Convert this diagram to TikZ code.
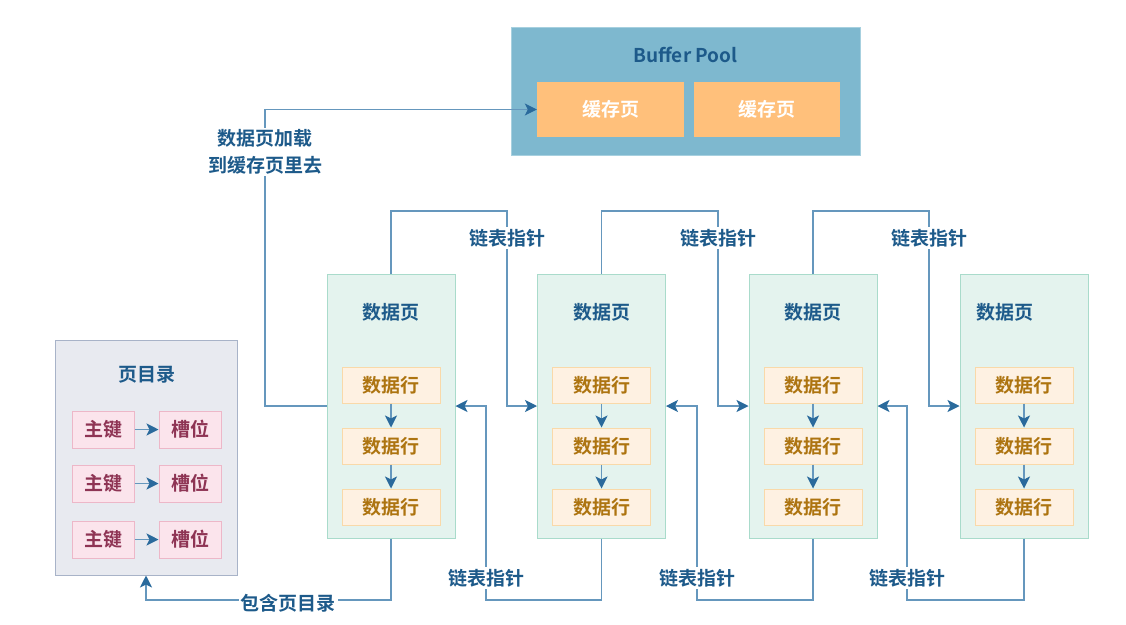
\documentclass[tikz,border=0pt]{standalone}
\usepackage{fontspec}
\setmainfont[BoldFont={Noto Sans CJK SC Bold}]{Noto Sans CJK SC}
\usetikzlibrary{arrows.meta,positioning}

\definecolor{linkblue}{HTML}{6597BD}
\definecolor{tipblue}{HTML}{2A6A9C}
\definecolor{lbltext}{HTML}{1D5A8A}
\definecolor{pagefill}{HTML}{E4F3EE}
\definecolor{pageborder}{HTML}{A9DBCB}
\definecolor{rowfill}{HTML}{FEF1E2}
\definecolor{rowborder}{HTML}{F9D9A9}
\definecolor{rowtext}{HTML}{AD7410}
\definecolor{dirfill}{HTML}{E8EAF0}
\definecolor{dirborder}{HTML}{A8B3C8}
\definecolor{keyfill}{HTML}{FBE4EC}
\definecolor{keyborder}{HTML}{EDB7C8}
\definecolor{keytext}{HTML}{8E3454}
\definecolor{poolfill}{HTML}{7EB8CF}
\definecolor{poolborder}{HTML}{A7D0DF}
\definecolor{cachefill}{HTML}{FFC07B}

\begin{document}
\begin{tikzpicture}[
    x=1pt, y=-1pt,
    node distance=24pt,
    txt/.style={font=\fontsize{19}{27}\selectfont\bfseries},
    page/.style={rectangle, draw=pageborder, fill=pagefill, line width=1pt, minimum width=128pt, minimum height=264pt},
    rowbox/.style={rectangle, draw=rowborder, fill=rowfill, line width=1pt, minimum width=98pt, minimum height=36pt, inner sep=0pt, txt, text=rowtext},
    dirbox/.style={rectangle, draw=dirborder, fill=dirfill, line width=1pt, minimum width=182pt, minimum height=235pt},
    keybox/.style={rectangle, draw=keyborder, fill=keyfill, line width=1pt, minimum width=62pt, minimum height=37pt, inner sep=0pt, txt, text=keytext},
    poolbox/.style={rectangle, draw=poolborder, fill=poolfill, line width=1pt, minimum width=349pt, minimum height=128pt},
    cachebox/.style={rectangle, fill=cachefill, minimum width=147pt, minimum height=55pt, inner sep=0pt, txt, text=white},
    title/.style={txt, text=lbltext, inner sep=0pt},
    lbl/.style={txt, text=lbltext, fill=white, inner sep=2pt, align=center},
    arrow/.style={-{Stealth[length=12pt,width=12pt,inset=3pt,color=tipblue]}, draw=linkblue, line width=1.1pt}
]
\useasboundingbox (0,0) rectangle (1126,624);

% buffer pool
\node[poolbox] (pool) at (685.5,91) {};
\node[title] (poolt) at (685.5,55) {Buffer Pool};
\node[cachebox] (c1) at (610.5,109.5) {缓存页};
\node[cachebox, minimum width=146pt, right=10pt of c1] (c2) {缓存页};

% page directory
\node[dirbox] (dir) at (146,457.5) {};
\node[title] (dirt) at (147,375) {页目录};
\node[keybox] (k1) at (103,429.5) {主键};
\node[keybox, right=24pt of k1] (s1) {槽位};
\node[keybox] (k2) at (103,483.5) {主键};
\node[keybox, right=24pt of k2] (s2) {槽位};
\node[keybox] (k3) at (103,539.5) {主键};
\node[keybox, right=24pt of k3] (s3) {槽位};

% data pages
\node[page] (pg1) at (391,406) {};
\node[title] (pg1t) at (391,312) {数据页};
\node[rowbox] (r11) at (391,385) {数据行};
\node[rowbox, below=of r11] (r12) {数据行};
\node[rowbox, below=of r12] (r13) {数据行};

\node[page] (pg2) at (601.5,406) {};
\node[title] (pg2t) at (601.5,312) {数据页};
\node[rowbox] (r21) at (601.5,385) {数据行};
\node[rowbox, below=of r21] (r22) {数据行};
\node[rowbox, below=of r22] (r23) {数据行};

\node[page] (pg3) at (813,406) {};
\node[title] (pg3t) at (813,312) {数据页};
\node[rowbox] (r31) at (813,385) {数据行};
\node[rowbox, below=of r31] (r32) {数据行};
\node[rowbox, below=of r32] (r33) {数据行};

\node[page] (pg4) at (1024,406) {};
\node[title] (pg4t) at (1005,312) {数据页};
\node[rowbox] (r41) at (1024,385) {数据行};
\node[rowbox, below=of r41] (r42) {数据行};
\node[rowbox, below=of r42] (r43) {数据行};

% bends of the connectors
\coordinate (ld) at (265,109.5);
\coordinate (t12) at (507,211);
\coordinate (t23) at (718,211);
\coordinate (t34) at (929,211);
\coordinate (b21) at (486,600);
\coordinate (b32) at (697,600);
\coordinate (b43) at (907,600);
\coordinate (db) at (146,600);

\draw[arrow] (k1) -- (s1);
\draw[arrow] (k2) -- (s2);
\draw[arrow] (k3) -- (s3);
\draw[arrow] (r11) -- (r12);
\draw[arrow] (r12) -- (r13);
\draw[arrow] (r21) -- (r22);
\draw[arrow] (r22) -- (r23);
\draw[arrow] (r31) -- (r32);
\draw[arrow] (r32) -- (r33);
\draw[arrow] (r41) -- (r42);
\draw[arrow] (r42) -- (r43);

\draw[arrow] (pg1.west) -| (ld) -- (c1.west);
\draw[arrow] (pg1.north) |- (t12) |- (pg2.west);
\draw[arrow] (pg2.north) |- (t23) |- (pg3.west);
\draw[arrow] (pg3.north) |- (t34) |- (pg4.west);
\draw[arrow] (pg2.south) |- (b21) |- (pg1.east);
\draw[arrow] (pg3.south) |- (b32) |- (pg2.east);
\draw[arrow] (pg4.south) |- (b43) |- (pg3.east);
\draw[arrow] (pg1.south) |- (db) -- (dir.south);

% labels on the connectors
\node[lbl] (loadl) at (265,152) {数据页加载\\到缓存页里去};
\node[lbl] (l12) at (507,238) {链表指针};
\node[lbl] (l23) at (718,238) {链表指针};
\node[lbl] (l34) at (929,238) {链表指针};
\node[lbl] (l21) at (486,578) {链表指针};
\node[lbl] (l32) at (697,578) {链表指针};
\node[lbl] (l43) at (907,578) {链表指针};
\node[lbl] (dirl) at (288,603) {包含页目录};
\end{tikzpicture}
\end{document}
